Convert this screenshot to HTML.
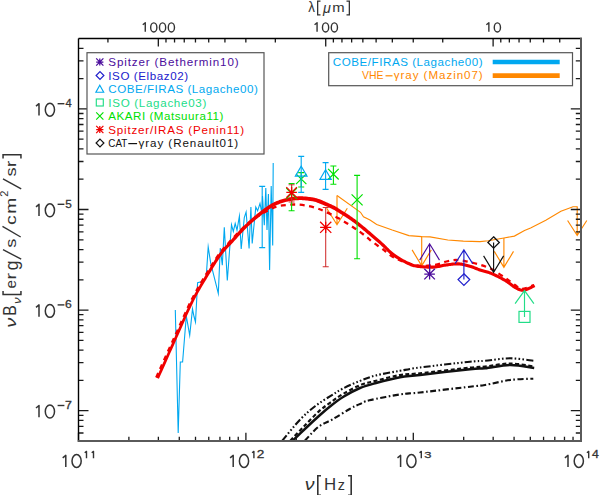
<!DOCTYPE html>
<html><head><meta charset="utf-8">
<style>
html,body{margin:0;padding:0;background:#fff;}
body{width:600px;height:495px;overflow:hidden;position:relative;font-family:"Liberation Sans",sans-serif;}
svg{position:absolute;left:0;top:0;}
svg text{font-family:"Liberation Sans",sans-serif;}
</style></head><body>
<svg width="600" height="495" viewBox="0 0 600 495">
<polyline points="175.3,310.0 178.2,433.0 180.3,362.0 182.6,362.0 186.3,316.0 189.7,335.3 192.5,309.0 194.0,316.5 195.5,322.0 197.6,282.8 203.1,281.3 206.2,277.3 208.2,247.0 210.7,263.1 218.3,293.4 220.3,248.0 222.3,265.2 224.3,227.2 227.3,280.5 231.5,224.7 233.3,231.4 235.2,223.5 237.0,230.2 239.4,216.2 241.2,249.0 244.3,217.5 246.1,212.0 249.1,248.4 250.9,207.1 252.2,243.5 255.8,207.1 257.6,210.8 260.0,203.5 261.9,213.2 262.5,196.0 264.3,225.3 265.8,188.0 267.0,230.0 268.4,194.0 269.6,270.0 271.2,186.0 272.7,245.5 273.2,163.0" fill="none" stroke="#00a8f0" stroke-width="1.1" stroke-linejoin="miter" stroke-miterlimit="10"/>
<path d="M262.2 186.4V247.6M259.2 186.4h6M259.2 247.6h6" stroke="#00a8f0" stroke-width="1.1" fill="none"/>
<g fill="none" stroke="#111" stroke-linecap="butt">
<path d="M282.3 440.7 C285.2 437.2 294.5 425.5 300.0 419.7 C305.5 413.9 310.3 409.9 315.4 406.0 C320.4 402.1 325.7 399.0 330.3 396.1 C334.9 393.2 338.1 391.0 343.0 388.5 C347.9 386.0 354.5 383.1 360.0 380.9 C365.5 378.7 369.3 377.1 376.0 375.4 C382.7 373.7 392.7 372.1 400.0 370.8 C407.3 369.5 408.3 369.0 420.0 367.5 C431.7 366.0 459.2 362.8 470.0 361.7 C480.8 360.6 478.3 361.4 485.0 360.8 C491.7 360.2 501.8 358.3 510.0 358.3 C518.2 358.3 530.2 360.4 534.2 360.8" stroke-width="2.1" stroke-dasharray="7 2.2 1.6 2.2 1.6 2.2 1.6 2.2"/>
<path d="M290.3 440.7 C292.6 438.3 299.4 431.1 304.1 426.3 C308.8 421.5 314.3 415.5 318.6 411.6 C322.9 407.7 325.9 405.7 330.0 402.8 C334.1 399.9 338.0 396.9 343.0 394.0 C348.0 391.1 354.5 387.4 360.0 385.2 C365.5 383.0 369.3 382.5 376.0 380.8 C382.7 379.1 392.7 376.2 400.0 375.0 C407.3 373.8 408.3 374.5 420.0 373.3 C431.7 372.1 459.2 368.7 470.0 367.6 C480.8 366.5 478.3 367.3 485.0 366.6 C491.7 365.9 501.8 363.5 510.0 363.5 C518.2 363.5 530.2 366.0 534.2 366.5" stroke-width="2.2" stroke-dasharray="4 2.5"/>
<path d="M292.8 440.7 C295.2 438.4 302.5 431.3 307.0 427.0 C311.5 422.7 316.2 418.4 320.0 415.0 C323.8 411.6 326.2 409.5 330.0 406.5 C333.8 403.5 338.0 400.1 343.0 397.0 C348.0 393.9 354.5 390.3 360.0 388.0 C365.5 385.7 369.3 384.8 376.0 383.0 C382.7 381.2 392.7 378.6 400.0 377.3 C407.3 376.0 408.3 376.4 420.0 375.0 C431.7 373.6 459.2 370.3 470.0 369.2 C480.8 368.1 478.3 369.0 485.0 368.3 C491.7 367.6 501.8 365.1 510.0 365.0 C518.2 364.9 530.2 367.5 534.2 368.0" stroke-width="2.5"/>
<path d="M304.9 440.7 C307.1 438.4 313.6 430.6 318.2 427.0 C322.8 423.4 327.4 422.3 332.6 419.3 C337.9 416.3 345.1 411.6 349.7 409.0 C354.3 406.4 356.7 405.4 360.0 404.0 C363.3 402.6 362.7 401.9 369.4 400.3 C376.1 398.7 391.6 395.7 400.0 394.4 C408.4 393.1 408.3 393.8 420.0 392.5 C431.7 391.2 459.2 387.9 470.0 386.7 C480.8 385.4 478.3 386.1 485.0 385.0 C491.7 383.9 501.9 381.1 510.0 380.0 C518.0 378.9 529.4 378.9 533.3 378.7" stroke-width="2.1" stroke-dasharray="6 2.5 1.6 2.5"/>
</g>
<polyline points="337.0,195.5 360.5,212.3 363.5,216.8 370.0,220.0 376.7,224.4 392.2,230.0 408.9,235.6 421.7,236.6 430.0,236.9 447.8,240.0 463.3,241.1 480.0,241.6 488.2,240.8 503.9,238.0 514.4,236.1 524.5,230.5 530.6,227.9 545.8,220.3 560.9,211.2 573.0,206.7 577.6,206.7" fill="none" stroke="#ff8800" stroke-width="1.1"/>
<path d="M337 195.5V224.7M326.7 208.2L337 224.7L347.3 208.2" fill="none" stroke="#ff8800" stroke-width="1.15"/>
<path d="M421.7 236.6V265.9M412.09999999999997 249.89999999999998L421.7 265.9L431.3 249.89999999999998" fill="none" stroke="#ff8800" stroke-width="1.15"/>
<path d="M503.9 238V267.4M494.29999999999995 251.39999999999998L503.9 267.4L513.5 251.39999999999998" fill="none" stroke="#ff8800" stroke-width="1.15"/>
<path d="M577.2 206.7V235.5M567.6 220.5L577.2 235.5L586.8000000000001 220.5" fill="none" stroke="#ff8800" stroke-width="1.15"/>
<path d="M156.2 377.5 C159.3 370.7 168.6 349.9 174.6 336.8 C180.6 323.7 186.2 310.3 192.0 299.0 C197.8 287.7 204.6 276.8 209.4 269.0 C214.2 261.2 216.9 256.9 220.6 252.1 C224.3 247.2 227.6 244.1 231.5 239.9 C235.4 235.7 239.7 230.7 243.8 227.0 C247.9 223.3 252.1 220.2 256.0 217.5 C259.9 214.8 263.5 212.8 267.0 211.0 C270.5 209.2 273.7 207.5 277.0 206.5 C280.3 205.5 283.8 205.3 287.0 205.0 C290.2 204.7 292.8 204.4 296.0 204.5 C299.2 204.6 302.7 204.9 306.0 205.5 C309.3 206.1 312.8 207.0 316.0 208.0 C319.2 209.0 321.3 209.8 325.0 211.5 C328.7 213.2 333.8 215.7 338.0 218.0 C342.2 220.3 346.5 223.0 350.0 225.2 C353.5 227.4 356.4 229.3 359.2 231.3 C362.0 233.3 364.6 235.4 367.0 237.3 C369.4 239.2 370.8 240.7 373.4 242.6 C376.0 244.5 379.0 246.4 382.6 249.0 C386.2 251.6 389.3 255.2 395.0 258.0 C400.7 260.8 410.3 264.4 417.0 265.5 C423.7 266.6 430.2 265.5 435.1 264.8 C440.0 264.1 443.0 262.3 446.5 261.5 C450.0 260.7 452.8 260.0 456.0 260.0 C459.2 260.0 462.4 260.6 466.0 261.3 C469.6 262.0 473.5 262.7 477.7 264.0 C481.9 265.3 486.6 266.7 491.2 269.0 C495.8 271.3 501.3 275.3 505.3 278.0 C509.3 280.7 512.2 283.2 515.0 285.0 C517.8 286.8 518.8 289.0 522.0 289.0 C525.2 289.0 532.0 285.7 534.0 285.0" fill="none" stroke="#f00000" stroke-width="2.3" stroke-dasharray="5 4.5"/>
<polygon points="158.93,378.75 159.81,376.79 160.91,374.33 162.21,371.43 163.66,368.18 165.24,364.65 166.91,360.91 168.64,357.05 170.39,353.12 172.15,349.22 173.86,345.40 175.50,341.76 177.03,338.35 178.50,335.08 179.95,331.80 181.40,328.52 182.84,325.25 184.27,322.01 185.69,318.79 187.11,315.60 188.53,312.47 189.94,309.40 191.36,306.39 192.79,303.46 194.22,300.62 195.67,297.84 197.16,295.08 198.67,292.37 200.19,289.69 201.71,287.08 203.22,284.52 204.71,282.03 206.16,279.63 207.58,277.31 208.94,275.09 210.24,272.97 211.47,270.97 212.61,269.10 213.67,267.36 214.67,265.74 215.61,264.23 216.51,262.81 217.37,261.47 218.21,260.19 219.04,258.96 219.86,257.77 220.70,256.59 221.55,255.42 222.44,254.24 223.33,253.09 224.21,252.00 225.09,250.97 225.97,249.97 226.85,249.00 227.73,248.06 228.63,247.12 229.53,246.18 230.45,245.22 231.38,244.24 232.33,243.24 233.30,242.19 234.28,241.11 235.28,240.01 236.28,238.89 237.30,237.76 238.33,236.62 239.36,235.49 240.39,234.36 241.42,233.24 242.45,232.14 243.48,231.06 244.49,230.01 245.50,229.00 246.50,228.02 247.50,227.05 248.48,226.11 249.47,225.19 250.45,224.28 251.43,223.39 252.42,222.51 253.41,221.64 254.42,220.77 255.44,219.90 256.48,219.04 257.53,218.17 258.62,217.29 259.74,216.39 260.90,215.48 262.07,214.56 263.24,213.65 264.42,212.75 265.59,211.88 266.74,211.04 267.87,210.23 268.96,209.48 270.00,208.78 270.98,208.14 271.91,207.57 272.79,207.05 273.63,206.58 274.44,206.15 275.23,205.76 275.99,205.39 276.75,205.06 277.51,204.74 278.27,204.43 279.04,204.13 279.83,203.84 280.63,203.54 281.44,203.25 282.24,202.98 283.04,202.73 283.85,202.50 284.65,202.28 285.46,202.07 286.26,201.87 287.07,201.69 287.89,201.51 288.70,201.35 289.51,201.19 290.33,201.05 291.14,200.91 291.96,200.78 292.77,200.66 293.58,200.55 294.38,200.45 295.19,200.37 296.00,200.29 296.80,200.23 297.61,200.18 298.41,200.14 299.22,200.11 300.02,200.10 300.82,200.10 301.63,200.12 302.46,200.15 303.29,200.20 304.13,200.26 304.96,200.33 305.79,200.41 306.61,200.50 307.41,200.59 308.20,200.69 308.98,200.80 309.73,200.91 310.45,201.01 311.11,201.10 311.71,201.18 312.27,201.26 312.80,201.35 313.32,201.44 313.85,201.55 314.41,201.69 315.02,201.86 315.70,202.07 316.47,202.32 317.34,202.63 318.33,203.00 319.46,203.45 320.71,203.94 322.03,204.48 323.40,205.06 324.80,205.66 326.19,206.26 327.55,206.86 328.86,207.45 330.09,208.00 331.20,208.52 332.18,208.98 333.01,209.38 333.72,209.74 334.32,210.07 334.84,210.36 335.32,210.64 335.76,210.92 336.19,211.20 336.65,211.50 337.14,211.83 337.69,212.20 338.32,212.60 339.03,213.05 339.81,213.53 340.63,214.03 341.49,214.56 342.38,215.10 343.30,215.67 344.24,216.25 345.19,216.84 346.14,217.45 347.09,218.06 348.04,218.68 348.97,219.31 349.89,219.94 350.80,220.58 351.72,221.24 352.65,221.92 353.58,222.61 354.52,223.31 355.45,224.02 356.39,224.74 357.32,225.46 358.24,226.18 359.15,226.89 360.05,227.61 360.94,228.32 361.80,229.01 362.65,229.71 363.48,230.40 364.31,231.09 365.13,231.78 365.94,232.48 366.75,233.17 367.57,233.88 368.39,234.58 369.22,235.30 370.07,236.02 370.92,236.75 371.79,237.49 372.66,238.24 373.54,238.98 374.42,239.74 375.31,240.49 376.19,241.25 377.08,242.02 377.97,242.78 378.86,243.56 379.75,244.33 380.64,245.11 381.51,245.89 382.37,246.68 383.21,247.48 384.04,248.30 384.88,249.14 385.72,249.99 386.57,250.84 387.44,251.70 388.34,252.56 389.26,253.41 390.22,254.24 391.22,255.07 392.26,255.86 393.35,256.64 394.48,257.42 395.67,258.19 396.88,258.96 398.11,259.71 399.35,260.44 400.59,261.16 401.81,261.84 403.01,262.49 404.17,263.11 405.27,263.67 406.32,264.19 407.27,264.66 408.15,265.08 408.98,265.46 409.77,265.81 410.55,266.13 411.32,266.42 412.11,266.68 412.93,266.92 413.78,267.14 414.69,267.35 415.68,267.54 416.75,267.73 417.94,267.91 419.21,268.07 420.56,268.21 421.97,268.34 423.42,268.45 424.90,268.54 426.38,268.61 427.86,268.66 429.31,268.69 430.72,268.70 432.08,268.69 433.37,268.65 434.61,268.57 435.80,268.45 436.95,268.30 438.06,268.11 439.13,267.91 440.18,267.69 441.20,267.47 442.20,267.25 443.20,267.04 444.19,266.85 445.18,266.68 446.21,266.54 447.28,266.40 448.37,266.25 449.46,266.10 450.56,265.96 451.65,265.82 452.73,265.70 453.80,265.59 454.86,265.50 455.90,265.44 456.93,265.41 457.93,265.41 458.91,265.45 459.87,265.53 460.84,265.64 461.81,265.80 462.78,265.98 463.75,266.19 464.71,266.42 465.66,266.66 466.61,266.92 467.54,267.19 468.47,267.46 469.38,267.73 470.26,267.98 471.08,268.24 471.86,268.50 472.61,268.77 473.34,269.05 474.07,269.34 474.79,269.63 475.52,269.94 476.26,270.24 477.02,270.55 477.82,270.86 478.64,271.17 479.51,271.47 480.40,271.76 481.30,272.02 482.20,272.27 483.09,272.50 484.00,272.74 484.90,272.97 485.82,273.22 486.74,273.48 487.68,273.77 488.64,274.09 489.61,274.44 490.61,274.83 491.67,275.28 492.79,275.78 493.96,276.32 495.16,276.89 496.39,277.49 497.62,278.10 498.85,278.73 500.06,279.37 501.25,280.00 502.40,280.63 503.49,281.24 504.51,281.83 505.46,282.42 506.38,283.02 507.28,283.64 508.15,284.28 509.01,284.92 509.85,285.56 510.67,286.19 511.47,286.80 512.27,287.39 513.06,287.95 513.85,288.47 514.62,288.94 515.35,289.35 516.04,289.73 516.72,290.07 517.37,290.39 518.01,290.68 518.64,290.94 519.26,291.17 519.88,291.37 520.50,291.54 521.13,291.68 521.75,291.78 522.39,291.85 523.06,291.87 523.71,291.83 524.34,291.74 524.95,291.61 525.53,291.45 526.08,291.27 526.61,291.07 527.13,290.86 527.63,290.64 528.11,290.44 528.59,290.23 529.08,290.04 529.63,289.81 530.22,289.55 530.83,289.27 531.44,288.98 532.04,288.67 532.63,288.37 533.20,288.08 533.74,287.80 534.22,287.54 534.65,287.31 535.01,287.13 535.30,286.98 533.90,284.22 533.60,284.37 533.22,284.57 532.78,284.80 532.29,285.05 531.77,285.33 531.22,285.62 530.65,285.91 530.07,286.19 529.50,286.47 528.94,286.73 528.42,286.96 527.92,287.16 527.41,287.37 526.90,287.58 526.41,287.79 525.94,287.99 525.48,288.18 525.04,288.35 524.62,288.49 524.21,288.60 523.81,288.69 523.41,288.74 523.02,288.77 522.61,288.75 522.16,288.71 521.70,288.63 521.24,288.53 520.77,288.40 520.28,288.25 519.77,288.06 519.24,287.84 518.69,287.59 518.11,287.30 517.49,286.99 516.85,286.64 516.18,286.26 515.51,285.85 514.81,285.39 514.09,284.88 513.33,284.32 512.55,283.72 511.73,283.09 510.88,282.44 509.99,281.78 509.07,281.11 508.12,280.45 507.12,279.80 506.09,279.17 505.02,278.55 503.90,277.92 502.73,277.28 501.51,276.63 500.27,275.98 499.02,275.34 497.76,274.71 496.50,274.10 495.27,273.51 494.07,272.96 492.90,272.44 491.79,271.97 490.71,271.54 489.65,271.16 488.62,270.82 487.62,270.51 486.65,270.23 485.70,269.98 484.77,269.74 483.88,269.50 483.00,269.27 482.15,269.04 481.31,268.79 480.49,268.53 479.69,268.25 478.92,267.96 478.17,267.67 477.43,267.37 476.70,267.07 475.97,266.77 475.23,266.46 474.47,266.16 473.69,265.86 472.87,265.57 472.02,265.28 471.14,265.02 470.25,264.75 469.34,264.48 468.40,264.21 467.44,263.94 466.46,263.67 465.46,263.41 464.43,263.16 463.39,262.94 462.34,262.74 461.27,262.57 460.18,262.44 459.09,262.35 457.99,262.31 456.88,262.31 455.76,262.34 454.64,262.41 453.52,262.50 452.40,262.62 451.28,262.74 450.16,262.89 449.05,263.03 447.96,263.18 446.88,263.32 445.79,263.46 444.70,263.62 443.63,263.80 442.58,264.01 441.55,264.22 440.54,264.44 439.54,264.66 438.53,264.87 437.52,265.06 436.49,265.23 435.44,265.37 434.36,265.48 433.23,265.55 432.02,265.59 430.72,265.60 429.35,265.59 427.94,265.57 426.51,265.52 425.07,265.45 423.63,265.36 422.23,265.25 420.87,265.13 419.57,264.99 418.36,264.84 417.25,264.67 416.24,264.50 415.33,264.32 414.51,264.13 413.76,263.94 413.05,263.73 412.36,263.50 411.68,263.24 410.99,262.96 410.26,262.63 409.47,262.27 408.62,261.86 407.68,261.41 406.67,260.91 405.60,260.36 404.48,259.76 403.31,259.13 402.12,258.46 400.92,257.77 399.72,257.05 398.53,256.31 397.36,255.57 396.23,254.82 395.16,254.07 394.14,253.34 393.19,252.60 392.28,251.84 391.39,251.05 390.52,250.24 389.67,249.42 388.83,248.58 387.99,247.74 387.15,246.88 386.31,246.03 385.45,245.18 384.58,244.33 383.69,243.51 382.79,242.70 381.90,241.90 381.01,241.11 380.11,240.33 379.22,239.55 378.33,238.77 377.44,238.01 376.56,237.24 375.68,236.48 374.80,235.73 373.94,234.99 373.08,234.25 372.23,233.51 371.40,232.79 370.57,232.07 369.75,231.35 368.94,230.64 368.12,229.94 367.30,229.23 366.48,228.53 365.64,227.82 364.80,227.11 363.94,226.40 363.06,225.68 362.17,224.96 361.27,224.24 360.36,223.50 359.43,222.77 358.50,222.03 357.56,221.29 356.61,220.56 355.67,219.84 354.72,219.12 353.78,218.42 352.84,217.73 351.91,217.06 350.97,216.40 350.01,215.75 349.04,215.10 348.07,214.46 347.11,213.83 346.15,213.22 345.21,212.62 344.29,212.04 343.40,211.48 342.54,210.94 341.73,210.43 340.97,209.95 340.29,209.52 339.71,209.13 339.18,208.78 338.70,208.45 338.23,208.13 337.76,207.82 337.26,207.50 336.72,207.17 336.12,206.83 335.45,206.46 334.69,206.06 333.82,205.62 332.81,205.13 331.68,204.59 330.43,204.01 329.11,203.40 327.74,202.77 326.33,202.14 324.92,201.52 323.53,200.92 322.18,200.35 320.91,199.83 319.73,199.37 318.66,198.97 317.72,198.64 316.87,198.37 316.09,198.13 315.37,197.94 314.70,197.78 314.06,197.65 313.44,197.54 312.84,197.44 312.24,197.36 311.62,197.28 310.98,197.19 310.27,197.09 309.50,196.99 308.69,196.88 307.87,196.78 307.02,196.69 306.16,196.60 305.29,196.52 304.41,196.45 303.52,196.39 302.63,196.35 301.75,196.31 300.86,196.30 299.98,196.30 299.12,196.32 298.25,196.35 297.39,196.40 296.53,196.45 295.67,196.53 294.81,196.61 293.95,196.71 293.09,196.81 292.23,196.93 291.38,197.06 290.52,197.20 289.67,197.35 288.82,197.51 287.97,197.68 287.11,197.86 286.26,198.04 285.40,198.24 284.54,198.46 283.68,198.68 282.82,198.92 281.96,199.18 281.09,199.46 280.23,199.75 279.37,200.06 278.53,200.38 277.71,200.69 276.90,201.01 276.09,201.34 275.28,201.68 274.46,202.06 273.62,202.46 272.76,202.89 271.87,203.36 270.96,203.88 270.01,204.44 269.02,205.06 267.98,205.74 266.89,206.48 265.77,207.27 264.61,208.10 263.43,208.97 262.24,209.87 261.04,210.79 259.85,211.72 258.66,212.66 257.50,213.60 256.37,214.52 255.27,215.43 254.20,216.32 253.16,217.22 252.12,218.11 251.10,219.01 250.10,219.91 249.09,220.82 248.10,221.74 247.10,222.68 246.11,223.63 245.11,224.60 244.11,225.59 243.10,226.60 242.07,227.65 241.04,228.73 240.00,229.84 238.96,230.97 237.93,232.11 236.89,233.26 235.87,234.42 234.85,235.57 233.84,236.71 232.84,237.83 231.86,238.94 230.90,240.01 229.96,241.04 229.04,242.04 228.12,243.01 227.22,243.97 226.32,244.93 225.42,245.89 224.52,246.87 223.62,247.88 222.71,248.92 221.80,250.01 220.89,251.16 219.96,252.36 219.06,253.59 218.19,254.80 217.34,256.02 216.50,257.25 215.67,258.52 214.82,259.83 213.95,261.20 213.05,262.64 212.11,264.17 211.12,265.80 210.06,267.55 208.93,269.43 207.73,271.44 206.44,273.57 205.09,275.80 203.69,278.13 202.24,280.56 200.76,283.07 199.26,285.65 197.74,288.30 196.22,291.00 194.72,293.76 193.23,296.55 191.78,299.38 190.35,302.26 188.92,305.22 187.50,308.26 186.07,311.35 184.65,314.50 183.22,317.69 181.80,320.92 180.36,324.17 178.93,327.44 177.48,330.71 176.03,333.98 174.57,337.25 173.03,340.65 171.39,344.30 169.68,348.11 167.93,352.02 166.17,355.94 164.44,359.81 162.77,363.55 161.19,367.08 159.74,370.33 158.45,373.22 157.35,375.69 156.47,377.65" fill="#f00000"/>
<path d="M291.6 183.5V210.8M288.6 183.5h6M288.6 210.8h6" stroke="#00e000" stroke-width="1.1" fill="none"/>
<path d="M286.3 188.2l10.6 10.6M286.3 198.8l10.6 -10.6" stroke="#00e000" stroke-width="1.2" fill="none"/>
<path d="M301.2 172.6V187M298.2 172.6h6M298.2 187h6" stroke="#00e000" stroke-width="1.1" fill="none"/>
<path d="M296.0 173.8l10.4 10.4M296.0 184.2l10.4 -10.4" stroke="#00e000" stroke-width="1.2" fill="none"/>
<path d="M333.4 166V184.3M330.4 166h6M330.4 184.3h6" stroke="#00e000" stroke-width="1.1" fill="none"/>
<path d="M328.09999999999997 168.89999999999998l10.6 10.6M328.09999999999997 179.5l10.6 -10.6" stroke="#00e000" stroke-width="1.2" fill="none"/>
<path d="M357.1 175.4V258.8M354.1 175.4h6M354.1 258.8h6" stroke="#00e000" stroke-width="1.1" fill="none"/>
<path d="M351.6 194.3l11.0 11.0M351.6 205.3l11.0 -11.0" stroke="#00e000" stroke-width="1.2" fill="none"/>
<path d="M301.2 156.4V192.4M298.2 156.4h6M298.2 192.4h6" stroke="#00a8f0" stroke-width="1.1" fill="none"/>
<path d="M301.2 166.3L307.0 176.2L295.4 176.2Z" stroke="#00a8f0" stroke-width="1.2" fill="none"/>
<path d="M325.6 162.6V189.4M322.6 162.6h6M322.6 189.4h6" stroke="#00a8f0" stroke-width="1.1" fill="none"/>
<path d="M325.6 169.7L331.20000000000005 179.3L320.0 179.3Z" stroke="#00a8f0" stroke-width="1.2" fill="none"/>
<path d="M291.6 184.7V202M288.6 184.7h6M288.6 202h6" stroke="#d03030" stroke-width="1.05" fill="none"/>
<path d="M286.3 192.4h10.6M291.6 187.1v10.6M286.3 187.1l10.6 10.6M286.3 197.70000000000002l10.6 -10.6" stroke="#f00000" stroke-width="1.3" fill="none"/>
<path d="M325.7 207.4V266.7M322.7 207.4h6M322.7 266.7h6" stroke="#d03030" stroke-width="1.05" fill="none"/>
<path d="M320.09999999999997 227.3h11.2M325.7 221.70000000000002v11.2M320.09999999999997 221.70000000000002l11.2 11.2M320.09999999999997 232.9l11.2 -11.2" stroke="#f00000" stroke-width="1.3" fill="none"/>
<path d="M429.6 274.1V243.8M419.70000000000005 260.1L429.6 243.8L439.5 260.1" fill="none" stroke="#4b0c9c" stroke-width="1.15"/>
<path d="M424.3 274.1h10.6M429.6 268.8v10.6M424.3 268.8l10.6 10.6M424.3 279.40000000000003l10.6 -10.6" stroke="#4b0c9c" stroke-width="1.3" fill="none"/>
<path d="M463.9 279.6V249.9M455.09999999999997 263.6L463.9 249.9L472.7 263.6" fill="none" stroke="#2020cc" stroke-width="1.15"/>
<path d="M463.9 273.8L469.7 279.6L463.9 285.40000000000003L458.09999999999997 279.6Z" stroke="#2020cc" stroke-width="1.3" fill="none"/>
<path d="M493.6 242.5V272.4M483.6 255.89999999999998L493.6 272.4L503.6 255.89999999999998" fill="none" stroke="#111" stroke-width="1.15"/>
<path d="M493.6 236.8L499.3 242.5L493.6 248.2L487.90000000000003 242.5Z" stroke="#111" stroke-width="1.3" fill="none"/>
<path d="M524.5 316.9V290.6M515.1 303.70000000000005L524.5 290.6L533.9 303.70000000000005" fill="none" stroke="#22dd88" stroke-width="1.15"/>
<rect x="519.0" y="311.4" width="11.0" height="11.0" stroke="#22dd88" stroke-width="1.2" fill="none"/>
<path d="M78.50 440.7v-8 M128.89 440.7v-4 M158.37 440.7v-4 M179.28 440.7v-4 M195.51 440.7v-4 M208.76 440.7v-4 M219.97 440.7v-4 M229.68 440.7v-4 M238.24 440.7v-4 M245.90 440.7v-8 M296.29 440.7v-4 M325.77 440.7v-4 M346.68 440.7v-4 M362.91 440.7v-4 M376.16 440.7v-4 M387.37 440.7v-4 M397.08 440.7v-4 M405.64 440.7v-4 M413.30 440.7v-8 M463.69 440.7v-4 M493.17 440.7v-4 M514.08 440.7v-4 M530.31 440.7v-4 M543.56 440.7v-4 M554.77 440.7v-4 M564.48 440.7v-4 M573.04 440.7v-4 M580.70 440.7v-8 M559.73 38.5v4 M543.51 38.5v4 M530.26 38.5v4 M519.05 38.5v4 M509.34 38.5v4 M500.78 38.5v4 M493.12 38.5v8 M442.73 38.5v4 M413.25 38.5v4 M392.33 38.5v4 M376.11 38.5v4 M362.86 38.5v4 M351.65 38.5v4 M341.94 38.5v4 M333.38 38.5v4 M325.72 38.5v8 M275.33 38.5v4 M245.85 38.5v4 M224.93 38.5v4 M208.71 38.5v4 M195.46 38.5v4 M184.25 38.5v4 M174.54 38.5v4 M165.98 38.5v4 M158.32 38.5v8 M107.93 38.5v4 M78.5 433.02h5 M580.8 433.02h-5 M78.5 426.28h5 M580.8 426.28h-5 M78.5 420.45h5 M580.8 420.45h-5 M78.5 415.30h5 M580.8 415.30h-5 M78.5 410.70h10 M580.8 410.70h-10 M78.5 380.42h5 M580.8 380.42h-5 M78.5 362.70h5 M580.8 362.70h-5 M78.5 350.13h5 M580.8 350.13h-5 M78.5 340.38h5 M580.8 340.38h-5 M78.5 332.42h5 M580.8 332.42h-5 M78.5 325.68h5 M580.8 325.68h-5 M78.5 319.85h5 M580.8 319.85h-5 M78.5 314.70h5 M580.8 314.70h-5 M78.5 310.10h10 M580.8 310.10h-10 M78.5 279.82h5 M580.8 279.82h-5 M78.5 262.10h5 M580.8 262.10h-5 M78.5 249.53h5 M580.8 249.53h-5 M78.5 239.78h5 M580.8 239.78h-5 M78.5 231.82h5 M580.8 231.82h-5 M78.5 225.08h5 M580.8 225.08h-5 M78.5 219.25h5 M580.8 219.25h-5 M78.5 214.10h5 M580.8 214.10h-5 M78.5 209.50h10 M580.8 209.50h-10 M78.5 179.22h5 M580.8 179.22h-5 M78.5 161.50h5 M580.8 161.50h-5 M78.5 148.93h5 M580.8 148.93h-5 M78.5 139.18h5 M580.8 139.18h-5 M78.5 131.22h5 M580.8 131.22h-5 M78.5 124.48h5 M580.8 124.48h-5 M78.5 118.65h5 M580.8 118.65h-5 M78.5 113.50h5 M580.8 113.50h-5 M78.5 108.90h10 M580.8 108.90h-10 M78.5 78.62h5 M580.8 78.62h-5 M78.5 60.90h5 M580.8 60.90h-5 M78.5 48.33h5 M580.8 48.33h-5" stroke="#1a1a1a" stroke-width="1.3" fill="none"/>
<path d="M78.5 38.5H581.9M78.5 38.5V441.9" stroke="#000" stroke-width="1.4" fill="none"/>
<path d="M581 37.8V442M77.8 441H582" stroke="#5a5a5a" stroke-width="2" fill="none"/>
<path d="M62.70 457.80L65.80 455.40V467.00" fill="none" stroke="#333" stroke-width="1.5" stroke-linejoin="round"/>
<ellipse cx="76.60" cy="461.00" rx="4.6" ry="6.4" fill="none" stroke="#333" stroke-width="1.5"/>
<path d="M84.70 452.70L86.50 451.40V458.20" fill="none" stroke="#333" stroke-width="1.4" stroke-linejoin="round"/>
<path d="M91.70 452.70L93.50 451.40V458.20" fill="none" stroke="#333" stroke-width="1.4" stroke-linejoin="round"/>
<path d="M230.10 457.80L233.20 455.40V467.00" fill="none" stroke="#333" stroke-width="1.5" stroke-linejoin="round"/>
<ellipse cx="244.00" cy="461.00" rx="4.6" ry="6.4" fill="none" stroke="#333" stroke-width="1.5"/>
<path d="M252.10 452.70L253.90 451.40V458.20" fill="none" stroke="#333" stroke-width="1.4" stroke-linejoin="round"/>
<text transform="matrix(0.13626 0 0 0.10036 256.72 458.30)" font-size="100" stroke="#333" stroke-width="2.5" fill="#333">2</text>
<path d="M397.50 457.80L400.60 455.40V467.00" fill="none" stroke="#333" stroke-width="1.5" stroke-linejoin="round"/>
<ellipse cx="411.40" cy="461.00" rx="4.6" ry="6.4" fill="none" stroke="#333" stroke-width="1.5"/>
<path d="M419.50 452.70L421.30 451.40V458.20" fill="none" stroke="#333" stroke-width="1.4" stroke-linejoin="round"/>
<text transform="matrix(0.13053 0 0 0.09894 424.31 458.20)" font-size="100" stroke="#333" stroke-width="2.6" fill="#333">3</text>
<path d="M564.90 457.80L568.00 455.40V467.00" fill="none" stroke="#333" stroke-width="1.5" stroke-linejoin="round"/>
<ellipse cx="578.80" cy="461.00" rx="4.6" ry="6.4" fill="none" stroke="#333" stroke-width="1.5"/>
<path d="M586.90 452.70L588.70 451.40V458.20" fill="none" stroke="#333" stroke-width="1.4" stroke-linejoin="round"/>
<text transform="matrix(0.12277 0 0 0.10182 591.92 458.30)" font-size="100" stroke="#333" stroke-width="2.7" fill="#333">4</text>
<path d="M36.00 106.20L39.00 103.70V115.50" fill="none" stroke="#333" stroke-width="1.5" stroke-linejoin="round"/>
<ellipse cx="49.90" cy="109.70" rx="4.6" ry="6.45" fill="none" stroke="#333" stroke-width="1.5"/>
<path d="M57.6 103.70H64.4" stroke="#333" stroke-width="1.4"/>
<text transform="matrix(0.11089 0 0 0.11055 65.45 107.20)" font-size="100" stroke="#333" stroke-width="2.7" fill="#333">4</text>
<path d="M36.00 206.80L39.00 204.30V216.10" fill="none" stroke="#333" stroke-width="1.5" stroke-linejoin="round"/>
<ellipse cx="49.90" cy="210.30" rx="4.6" ry="6.45" fill="none" stroke="#333" stroke-width="1.5"/>
<path d="M57.6 204.30H64.4" stroke="#333" stroke-width="1.4"/>
<text transform="matrix(0.11789 0 0 0.10896 65.23 207.69)" font-size="100" stroke="#333" stroke-width="2.6" fill="#333">5</text>
<path d="M36.00 307.40L39.00 304.90V316.70" fill="none" stroke="#333" stroke-width="1.5" stroke-linejoin="round"/>
<ellipse cx="49.90" cy="310.90" rx="4.6" ry="6.45" fill="none" stroke="#333" stroke-width="1.5"/>
<path d="M57.6 304.90H64.4" stroke="#333" stroke-width="1.4"/>
<text transform="matrix(0.12108 0 0 0.10742 65.09 308.29)" font-size="100" stroke="#333" stroke-width="2.6" fill="#333">6</text>
<path d="M36.00 408.00L39.00 405.50V417.30" fill="none" stroke="#333" stroke-width="1.5" stroke-linejoin="round"/>
<ellipse cx="49.90" cy="411.50" rx="4.6" ry="6.45" fill="none" stroke="#333" stroke-width="1.5"/>
<path d="M57.6 405.50H64.4" stroke="#333" stroke-width="1.4"/>
<text transform="matrix(0.12376 0 0 0.11055 65.05 409.00)" font-size="100" stroke="#333" stroke-width="2.6" fill="#333">7</text>
<path d="M142.77 24.80L145.27 22.80V31.80" fill="none" stroke="#333" stroke-width="1.4" stroke-linejoin="round"/>
<ellipse cx="153.77" cy="27.40" rx="3.1" ry="4.55" fill="none" stroke="#333" stroke-width="1.4"/>
<ellipse cx="162.57" cy="27.40" rx="3.1" ry="4.55" fill="none" stroke="#333" stroke-width="1.4"/>
<ellipse cx="171.37" cy="27.40" rx="3.1" ry="4.55" fill="none" stroke="#333" stroke-width="1.4"/>
<path d="M314.57 24.80L317.07 22.80V31.80" fill="none" stroke="#333" stroke-width="1.4" stroke-linejoin="round"/>
<ellipse cx="325.57" cy="27.40" rx="3.1" ry="4.55" fill="none" stroke="#333" stroke-width="1.4"/>
<ellipse cx="334.37" cy="27.40" rx="3.1" ry="4.55" fill="none" stroke="#333" stroke-width="1.4"/>
<path d="M486.37 24.80L488.87 22.80V31.80" fill="none" stroke="#333" stroke-width="1.4" stroke-linejoin="round"/>
<ellipse cx="497.37" cy="27.40" rx="3.1" ry="4.55" fill="none" stroke="#333" stroke-width="1.4"/>
<text transform="matrix(0.13264 0 0 0.15034 308.20 12.20)" font-size="100" fill="#333">λ</text>
<text transform="matrix(0.14299 0 0 0.15139 323.09 12.79)" font-size="100" font-style="italic" fill="#333">μ</text>
<text transform="matrix(0.14857 0 0 0.12837 332.30 12.20)" font-size="100" fill="#333">m</text>
<path d="M320.5 1.15H317.65V14.85H320.5" fill="none" stroke="#333" stroke-width="1.3"/>
<path d="M346.5 1.15H349.35V14.85H346.5" fill="none" stroke="#333" stroke-width="1.3"/>
<text transform="matrix(0.19551 0 0 0.16114 304.67 489.70)" font-size="100" font-style="italic" fill="#333">ν</text>
<text transform="matrix(0.16861 0 0 0.16873 323.91 489.70)" font-size="100" fill="#333">H</text>
<text transform="matrix(0.14390 0 0 0.14976 337.72 489.70)" font-size="100" fill="#333">z</text>
<path d="M321 475.8H317.8V495.2H321" fill="none" stroke="#333" stroke-width="1.6"/>
<path d="M348 475.8H351.2V495.2H348" fill="none" stroke="#333" stroke-width="1.6"/>
<text transform="matrix(0 -0.20225 0.15166 0 16.40 327.66)" font-size="100" font-style="italic" fill="#333">ν</text>
<text transform="matrix(0 -0.15775 0.17600 0 16.40 315.80)" font-size="100" fill="#333">B</text>
<text transform="matrix(0 -0.13258 0.11185 0 21.40 304.03)" font-size="100" font-style="italic" fill="#333">ν</text>
<text transform="matrix(0 -0.15319 0.14612 0 16.25 288.45)" font-size="100" fill="#333">e</text>
<text transform="matrix(0 -0.19600 0.14884 0 16.40 279.42)" font-size="100" fill="#333">r</text>
<text transform="matrix(0 -0.17556 0.17450 0 17.78 270.25)" font-size="100" fill="#333">g</text>
<text transform="matrix(0 -0.18286 0.14612 0 16.25 247.80)" font-size="100" fill="#333">s</text>
<text transform="matrix(0 -0.19767 0.14612 0 16.25 224.94)" font-size="100" fill="#333">c</text>
<text transform="matrix(0 -0.19286 0.14884 0 16.40 213.70)" font-size="100" fill="#333">m</text>
<text transform="matrix(0 -0.10989 0.10753 0 8.30 196.85)" font-size="100" fill="#333">2</text>
<text transform="matrix(0 -0.18286 0.14612 0 16.25 176.50)" font-size="100" fill="#333">s</text>
<text transform="matrix(0 -0.20000 0.14884 0 16.40 167.25)" font-size="100" fill="#333">r</text>
<path d="M3.05 291.1V294.45H20.95V291.1" fill="none" stroke="#333" stroke-width="1.5"/>
<path d="M3.05 158.6V154.75H20.95V158.6" fill="none" stroke="#333" stroke-width="1.5"/>
<path d="M3.0 249.6L21.2 259.2" stroke="#333" stroke-width="1.4"/>
<path d="M2.5 226.4L20.7 237.0" stroke="#333" stroke-width="1.4"/>
<path d="M3.0 178.8L21.2 188.9" stroke="#333" stroke-width="1.4"/>
<rect x="87" y="52.7" width="177" height="101.3" fill="#fff" stroke="#555" stroke-width="1.2"/>
<text x="108.3" y="66.2" font-size="11.6" fill="#4b0c9c" textLength="130.3" lengthAdjust="spacing">Spitzer (Bethermin10)</text>
<path d="M96.2 62.0h7.2M99.8 58.4v7.2M96.2 58.4l7.2 7.2M96.2 65.6l7.2 -7.2" stroke="#4b0c9c" stroke-width="1.25" fill="none"/>
<text x="108.3" y="79.7" font-size="11.6" fill="#2020cc" textLength="79.8" lengthAdjust="spacing">ISO (Elbaz02)</text>
<path d="M100 71.6L103.9 75.5L100 79.4L96.1 75.5Z" stroke="#2020cc" stroke-width="1.2" fill="none"/>
<text x="108.3" y="93.2" font-size="11.6" fill="#00a8f0" textLength="149.5" lengthAdjust="spacing">COBE/FIRAS (Lagache00)</text>
<path d="M99.8 85.2L103.7 92.2L95.89999999999999 92.2Z" stroke="#00a8f0" stroke-width="1.15" fill="none"/>
<text x="108.3" y="106.7" font-size="11.6" fill="#22dd88" textLength="98.0" lengthAdjust="spacing">ISO (Lagache03)</text>
<rect x="96.3" y="99.0" width="7.0" height="7.0" stroke="#22dd88" stroke-width="1.15" fill="none"/>
<text x="108.3" y="120.2" font-size="11.6" fill="#00e000" textLength="115.1" lengthAdjust="spacing">AKARI (Matsuura11)</text>
<path d="M96.2 112.4l7.2 7.2M96.2 119.6l7.2 -7.2" stroke="#00e000" stroke-width="1.15" fill="none"/>
<text x="108.3" y="133.7" font-size="11.6" fill="#f00000" textLength="135.9" lengthAdjust="spacing">Spitzer/IRAS (Penin11)</text>
<path d="M96.2 129.5h7.2M99.8 125.9v7.2M96.2 125.9l7.2 7.2M96.2 133.1l7.2 -7.2" stroke="#f00000" stroke-width="1.25" fill="none"/>
<text x="108.3" y="147.2" font-size="11.6" fill="#111" textLength="19" lengthAdjust="spacingAndGlyphs">CAT</text>
<path d="M128.3 143.6H137.1" stroke="#111" stroke-width="1.2"/>
<text x="138.6" y="147.2" font-size="11.6" fill="#111" textLength="99.6" lengthAdjust="spacing">γray (Renault01)</text>
<path d="M100 139.1L103.9 143.0L100 146.9L96.1 143.0Z" stroke="#111" stroke-width="1.2" fill="none"/>
<rect x="328.7" y="52.7" width="243.8" height="33" fill="none" stroke="#555" stroke-width="1.2"/>
<text x="332.8" y="66" font-size="11.6" fill="#00a8f0" textLength="149.9" lengthAdjust="spacing">COBE/FIRAS (Lagache00)</text>
<text x="362" y="79.3" font-size="11.6" fill="#ff8800" textLength="21.5" lengthAdjust="spacingAndGlyphs">VHE</text>
<path d="M385.5 75.8H392.5" stroke="#ff8800" stroke-width="1.2"/>
<text x="393.8" y="79.3" font-size="11.6" fill="#ff8800" textLength="88.9" lengthAdjust="spacing">γray (Mazin07)</text>
<path d="M492.7 62h67" stroke="#00a8f0" stroke-width="4.7"/>
<path d="M492.7 75.6h67" stroke="#ff8800" stroke-width="4.7"/>
</svg>
</body></html>
